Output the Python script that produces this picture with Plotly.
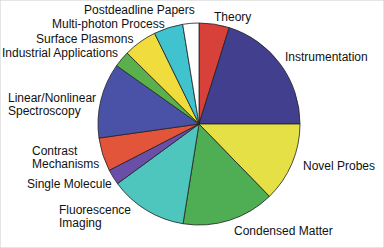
import plotly.graph_objects as go

categories = ["Theory", "Instrumentation", "Novel Probes", "Condensed Matter",
              "Fluorescence<br>Imaging", "Single Molecule", "Contrast<br>Mechanisms",
              "Linear/Nonlinear<br>Spectroscopy", "Industrial Applications",
              "Surface Plasmons", "Multi-photon Process", "Postdeadline Papers"]
values = [17.4, 72.6, 45.8, 53.3, 44.7, 8.9, 19.3, 43.3, 9.3, 19.3, 16.8, 9.3]
colors = ["#d8403a", "#413f8e", "#e4e046", "#4fae54", "#4ec6bd", "#6a4fa8",
          "#e2553a", "#4a52a8", "#5ab04a", "#f0dc3c", "#41c3cf", "#ffffff"]

W, H = 384, 248
# label anchor positions in pixels (x, y of first line centre, x-anchor)
label_pos = [(212, 17, "left"), (283, 57, "left"), (301, 166, "left"),
             (232, 231, "left"), (57, 210, "left"), (25, 184, "left"),
             (30, 151, "left"), (6, 98, "left"), (120, 53, "right"),
             (135, 39, "right"), (167, 24, "right"), (197, 10, "right")]

cx, cy, r = 199, 124, 101

fig = go.Figure(go.Pie(
    labels=categories, values=values, sort=False, direction="clockwise",
    rotation=0, textinfo="none", hoverinfo="label+percent",
    marker=dict(colors=colors, line=dict(color="#222222", width=0.8)),
    domain=dict(x=[(cx - r) / W, (cx + r) / W], y=[1 - (cy + r) / H, 1 - (cy - r) / H]),
    showlegend=False,
))

annotations = []
for lab, (x, y, anchor) in zip(categories, label_pos):
    for i, line in enumerate(lab.split("<br>")):
        annotations.append(dict(
            x=x / W, y=1 - (y + i * 13) / H, xref="paper", yref="paper",
            text=line, showarrow=False, xanchor=anchor, yanchor="middle",
            font=dict(family="Liberation Sans, Arial, sans-serif", size=12, color="#111111"),
        ))

fig.update_layout(
    width=W, height=H, margin=dict(l=0, r=0, t=0, b=0),
    paper_bgcolor="white", plot_bgcolor="white",
    annotations=annotations,
    shapes=[dict(type="rect", xref="paper", yref="paper", x0=0, y0=0, x1=1, y1=1,
                 line=dict(color="#cccccc", width=1))],
)

fig.write_html("out.html")
